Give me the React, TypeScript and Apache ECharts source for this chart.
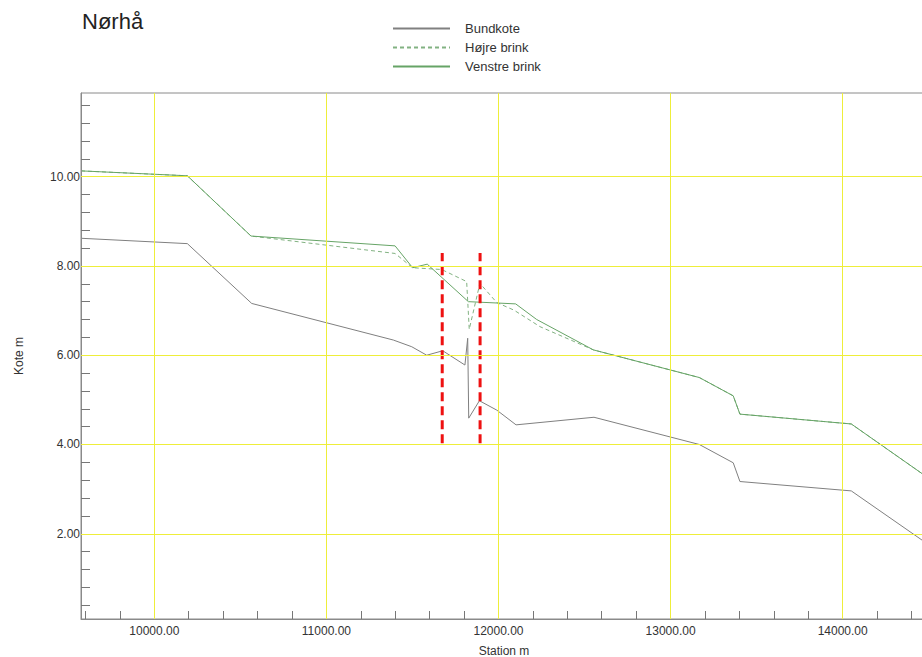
import React, { useEffect, useRef } from "react";
import * as echarts from "echarts";

// ---- data ----
const bundStation = [9574, 10192, 10566, 11389, 11496, 11583, 11676, 11805, 11821, 11827, 11889, 11990, 12102, 12555, 13167, 13364, 13403, 14050, 14490];
const bundKote = [8.62, 8.5, 7.16, 6.34, 6.19, 6.0, 6.1, 5.78, 6.38, 4.59, 4.98, 4.77, 4.44, 4.61, 4.0, 3.59, 3.17, 2.96, 1.78];

const hojreStation = [9574, 10192, 10562, 11399, 11501, 11670, 11815, 11830, 11892, 11990, 12090, 12241, 12551, 13167, 13364, 13403, 14050, 14490];
const hojreKote = [10.13, 10.02, 8.67, 8.28, 7.96, 7.92, 7.65, 6.58, 7.61, 7.18, 7.01, 6.64, 6.12, 5.5, 5.09, 4.68, 4.46, 3.27];

const venstreStation = [9574, 10192, 10562, 11399, 11501, 11586, 11825, 12100, 12222, 12551, 13167, 13364, 13403, 14050, 14490];
const venstreKote = [10.13, 10.02, 8.67, 8.45, 7.96, 8.04, 7.2, 7.15, 6.8, 6.12, 5.5, 5.09, 4.68, 4.46, 3.27];

const markerStations = [11673, 11893];
const markerRange = [4.03, 8.29];

const xMajorTicks = [10000, 11000, 12000, 13000, 14000];
const xMinorTicks = [9600, 9800, 10000, 10200, 10400, 10600, 10800, 11000, 11200, 11400, 11600, 11800, 12000, 12200, 12400, 12600, 12800, 13000, 13200, 13400, 13600, 13800, 14000, 14200, 14400];
const yMajorTicks = [2, 4, 6, 8, 10];
const yMinorTicks = [0.4, 0.8, 1.2, 1.6, 2, 2.4, 2.8, 3.2, 3.6, 4, 4.4, 4.8, 5.2, 5.6, 6, 6.4, 6.8, 7.2, 7.6, 8, 8.4, 8.8, 9.2, 9.6, 10, 10.4, 10.8, 11.2, 11.6];

const X_MIN = 9574;
const X_MAX = 14490;
const Y_MIN = 0.09;
const Y_MAX = 11.875;

const FONT = "'Liberation Sans', Arial, sans-serif";
const GRID_YELLOW = "#eeee3a";

const zip = (xs: number[], ys: number[]) => xs.map((x, i) => [x, ys[i]]);

export default function App() {
  const ref = useRef<HTMLDivElement>(null);

  useEffect(() => {
    if (!ref.current) return;
    const chart = echarts.init(ref.current, undefined, { renderer: "svg" });

    const baseX = { type: "value", min: X_MIN, max: X_MAX, position: "bottom", gridIndex: 0, splitLine: { show: false }, minorSplitLine: { show: false }, splitArea: { show: false } };
    const baseY = { type: "value", min: Y_MIN, max: Y_MAX, position: "left", gridIndex: 0, splitLine: { show: false }, minorSplitLine: { show: false }, splitArea: { show: false } };

    const gridLines = [
      ...xMajorTicks.map((v) => ({ xAxis: v })),
      ...yMajorTicks.map((v) => ({ yAxis: v })),
    ];

    const option: any = {
      animation: false,
      backgroundColor: "#ffffff",
      title: {
        text: "Nørhå",
        left: 82,
        top: 10,
        padding: 0,
        textStyle: { fontFamily: FONT, fontSize: 22, fontWeight: "normal", color: "#222" },
      },
      legend: {
        orient: "vertical",
        left: 392,
        top: 22,
        padding: 0,
        itemWidth: 57,
        itemHeight: 14,
        itemGap: 6,
        data: ["Bundkote", "Højre brink", "Venstre brink"],
        itemStyle: { opacity: 0 },
        textStyle: { fontFamily: FONT, fontSize: 13, color: "#333", padding: [0, 0, 0, 10] },
      },
      grid: {
        left: 81,
        top: 93,
        right: -5,
        bottom: 38,
        containLabel: false,
        outerBoundsMode: "none",
        show: true,
        borderColor: "#8a8a8a",
        borderWidth: 1,
        backgroundColor: "transparent",
      },
      xAxis: [
        {
          ...baseX,
          z: 3,
          name: "Station m",
          nameLocation: "middle",
          nameGap: 26,
          nameTextStyle: { fontFamily: FONT, fontSize: 12, color: "#333" },
          axisLine: { show: true, onZero: false, lineStyle: { color: "#8a8a8a", width: 1 } },
          axisTick: { show: true, inside: true, length: 16, customValues: xMajorTicks, lineStyle: { color: "#666", width: 1 } },
          axisLabel: {
            show: true,
            customValues: xMajorTicks,
            margin: 6,
            fontFamily: FONT,
            fontSize: 12,
            color: "#333",
            formatter: (v: number) => v.toFixed(2),
          },
        },
        {
          ...baseX,
          z: 3,
          axisLine: { show: false, onZero: false },
          axisTick: { show: true, inside: true, length: 8, customValues: xMinorTicks, lineStyle: { color: "#777", width: 1 } },
          axisLabel: { show: false },
        },
      ],
      yAxis: [
        {
          ...baseY,
          z: 3,
          name: "Kote m",
          nameLocation: "middle",
          nameGap: 56,
          nameRotate: 90,
          nameTextStyle: { fontFamily: FONT, fontSize: 12, color: "#333" },
          axisLine: { show: true, onZero: false, lineStyle: { color: "#8a8a8a", width: 1 } },
          axisTick: { show: true, inside: true, length: 18, customValues: yMajorTicks, lineStyle: { color: "#666", width: 1 } },
          axisLabel: {
            show: true,
            customValues: yMajorTicks,
            margin: 1,
            fontFamily: FONT,
            fontSize: 12,
            color: "#333",
            formatter: (v: number) => v.toFixed(2),
          },
        },
        {
          ...baseY,
          z: 3,
          axisLine: { show: false, onZero: false },
          axisTick: { show: true, inside: true, length: 9, customValues: yMinorTicks, lineStyle: { color: "#777", width: 1 } },
          axisLabel: { show: false },
        },
      ],
      series: [
        {
          name: "gridlines",
          type: "line",
          xAxisIndex: 0,
          yAxisIndex: 0,
          z: 1,
          symbol: "none",
          data: [],
          silent: true,
          markLine: {
            silent: true,
            symbol: ["none", "none"],
            label: { show: false },
            emphasis: { disabled: true },
            lineStyle: { color: GRID_YELLOW, width: 1, type: "solid" },
            data: gridLines,
          },
        },
        {
          name: "Bundkote",
          type: "line",
          xAxisIndex: 0,
          yAxisIndex: 0,
          symbol: "none",
          z: 2,
          data: zip(bundStation, bundKote),
          lineStyle: { color: "#808080", width: 1 },
          itemStyle: { color: "#808080" },
        },
        {
          name: "Højre brink",
          type: "line",
          xAxisIndex: 0,
          yAxisIndex: 0,
          symbol: "none",
          z: 2,
          data: zip(hojreStation, hojreKote),
          lineStyle: { color: "#82b282", width: 1, type: [4, 3] },
          itemStyle: { color: "#82b282" },
        },
        {
          name: "Venstre brink",
          type: "line",
          xAxisIndex: 0,
          yAxisIndex: 0,
          symbol: "none",
          z: 2,
          data: zip(venstreStation, venstreKote),
          lineStyle: { color: "#66a466", width: 1 },
          itemStyle: { color: "#66a466" },
        },
        ...markerStations.map((s, i) => ({
          name: "marker" + i,
          type: "line",
          xAxisIndex: 0,
          yAxisIndex: 0,
          symbol: "none",
          z: 4,
          data: markerRange.map((k) => [s, k]),
          lineStyle: { color: "#ee1111", width: 3, type: [9, 5] },
        })),
      ],
    };

    chart.setOption(option);
    return () => chart.dispose();
  }, []);

  return (
    <div
      ref={ref}
      style={{ position: "absolute", left: 0, top: 0, width: 922, height: 657, overflow: "hidden" }}
    />
  );
}
